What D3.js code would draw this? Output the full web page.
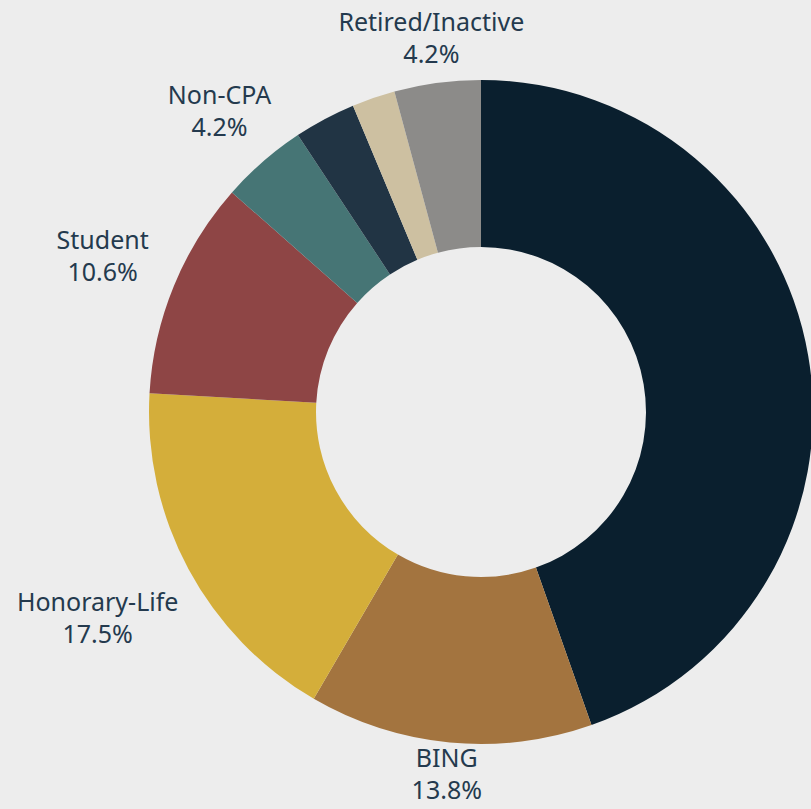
<!DOCTYPE html>
<html>
<head>
<meta charset="utf-8">
<script src="https://cdn.jsdelivr.net/npm/d3@7"></script>
<style>
  html, body { margin: 0; padding: 0; background: #ededed; }
  svg { display: block; }
</style>
</head>
<body>
<svg id="chart" width="811" height="809"></svg>
<script>
const categories = ["Active CPA", "BING", "Honorary-Life", "Student", "Non-CPA", "Other", "Associate", "Retired/Inactive"];
const shares = [44.6, 13.8, 17.5, 10.6, 4.2, 3.0, 2.1, 4.2];
const labelTexts = ["", "13.8%", "17.5%", "10.6%", "4.2%", "", "", "4.2%"];
const showLabel = [false, true, true, true, true, false, false, true];
const colors = ["#0a1f2e", "#a3743f", "#d4ae3a", "#8e4545", "#467575", "#213444", "#cdc0a1", "#8c8b89"];

const svg = d3.select("svg#chart");

const cx = 481, cy = 412;
const outerR = 332, innerR = 165;

const data = categories.map((c, i) => ({cat: c, value: shares[i], pct: labelTexts[i], show: showLabel[i]}));

const pie = d3.pie().sort(null).value(d => d.value);
const arc = d3.arc().innerRadius(innerR).outerRadius(outerR);

const color = d3.scaleOrdinal().domain(categories).range(colors);

const g = svg.append("g").attr("transform", `translate(${cx}, ${cy})`);

const arcs = pie(data);

g.selectAll("path")
  .data(arcs)
  .join("path")
  .attr("d", arc)
  .attr("fill", d => color(d.data.cat));

// подписи снаружи кольца
const labels = g.selectAll("g.label")
  .data(arcs.filter(d => d.data.show))
  .join("g")
  .attr("class", "label")
  .attr("transform", d => {
    const a = (d.startAngle + d.endAngle) / 2;
    const s = Math.abs(Math.sin(a));
    const c = Math.cos(a);
    let r = 372 + 40 * s + (s > 0.85 && c < 0 ? 28 : 0);
    if (c < -0.9) r -= 12; // внизу не хватает места
    return `translate(${Math.sin(a) * r}, ${-c * r})`;
  });

const font = "'Noto Sans', 'Open Sans', sans-serif";

labels.append("text")
  .attr("text-anchor", "middle")
  .attr("y", -16)
  .attr("dy", "0.35em")
  .style("font-family", font)
  .style("font-size", "25px")
  .style("fill", "#243a4e")
  .text(d => d.data.cat);

labels.append("text")
  .attr("text-anchor", "middle")
  .attr("y", 16)
  .attr("dy", "0.35em")
  .style("font-family", font)
  .style("font-size", "25px")
  .style("fill", "#243a4e")
  .text(d => d.data.pct);
</script>
</body>
</html>
